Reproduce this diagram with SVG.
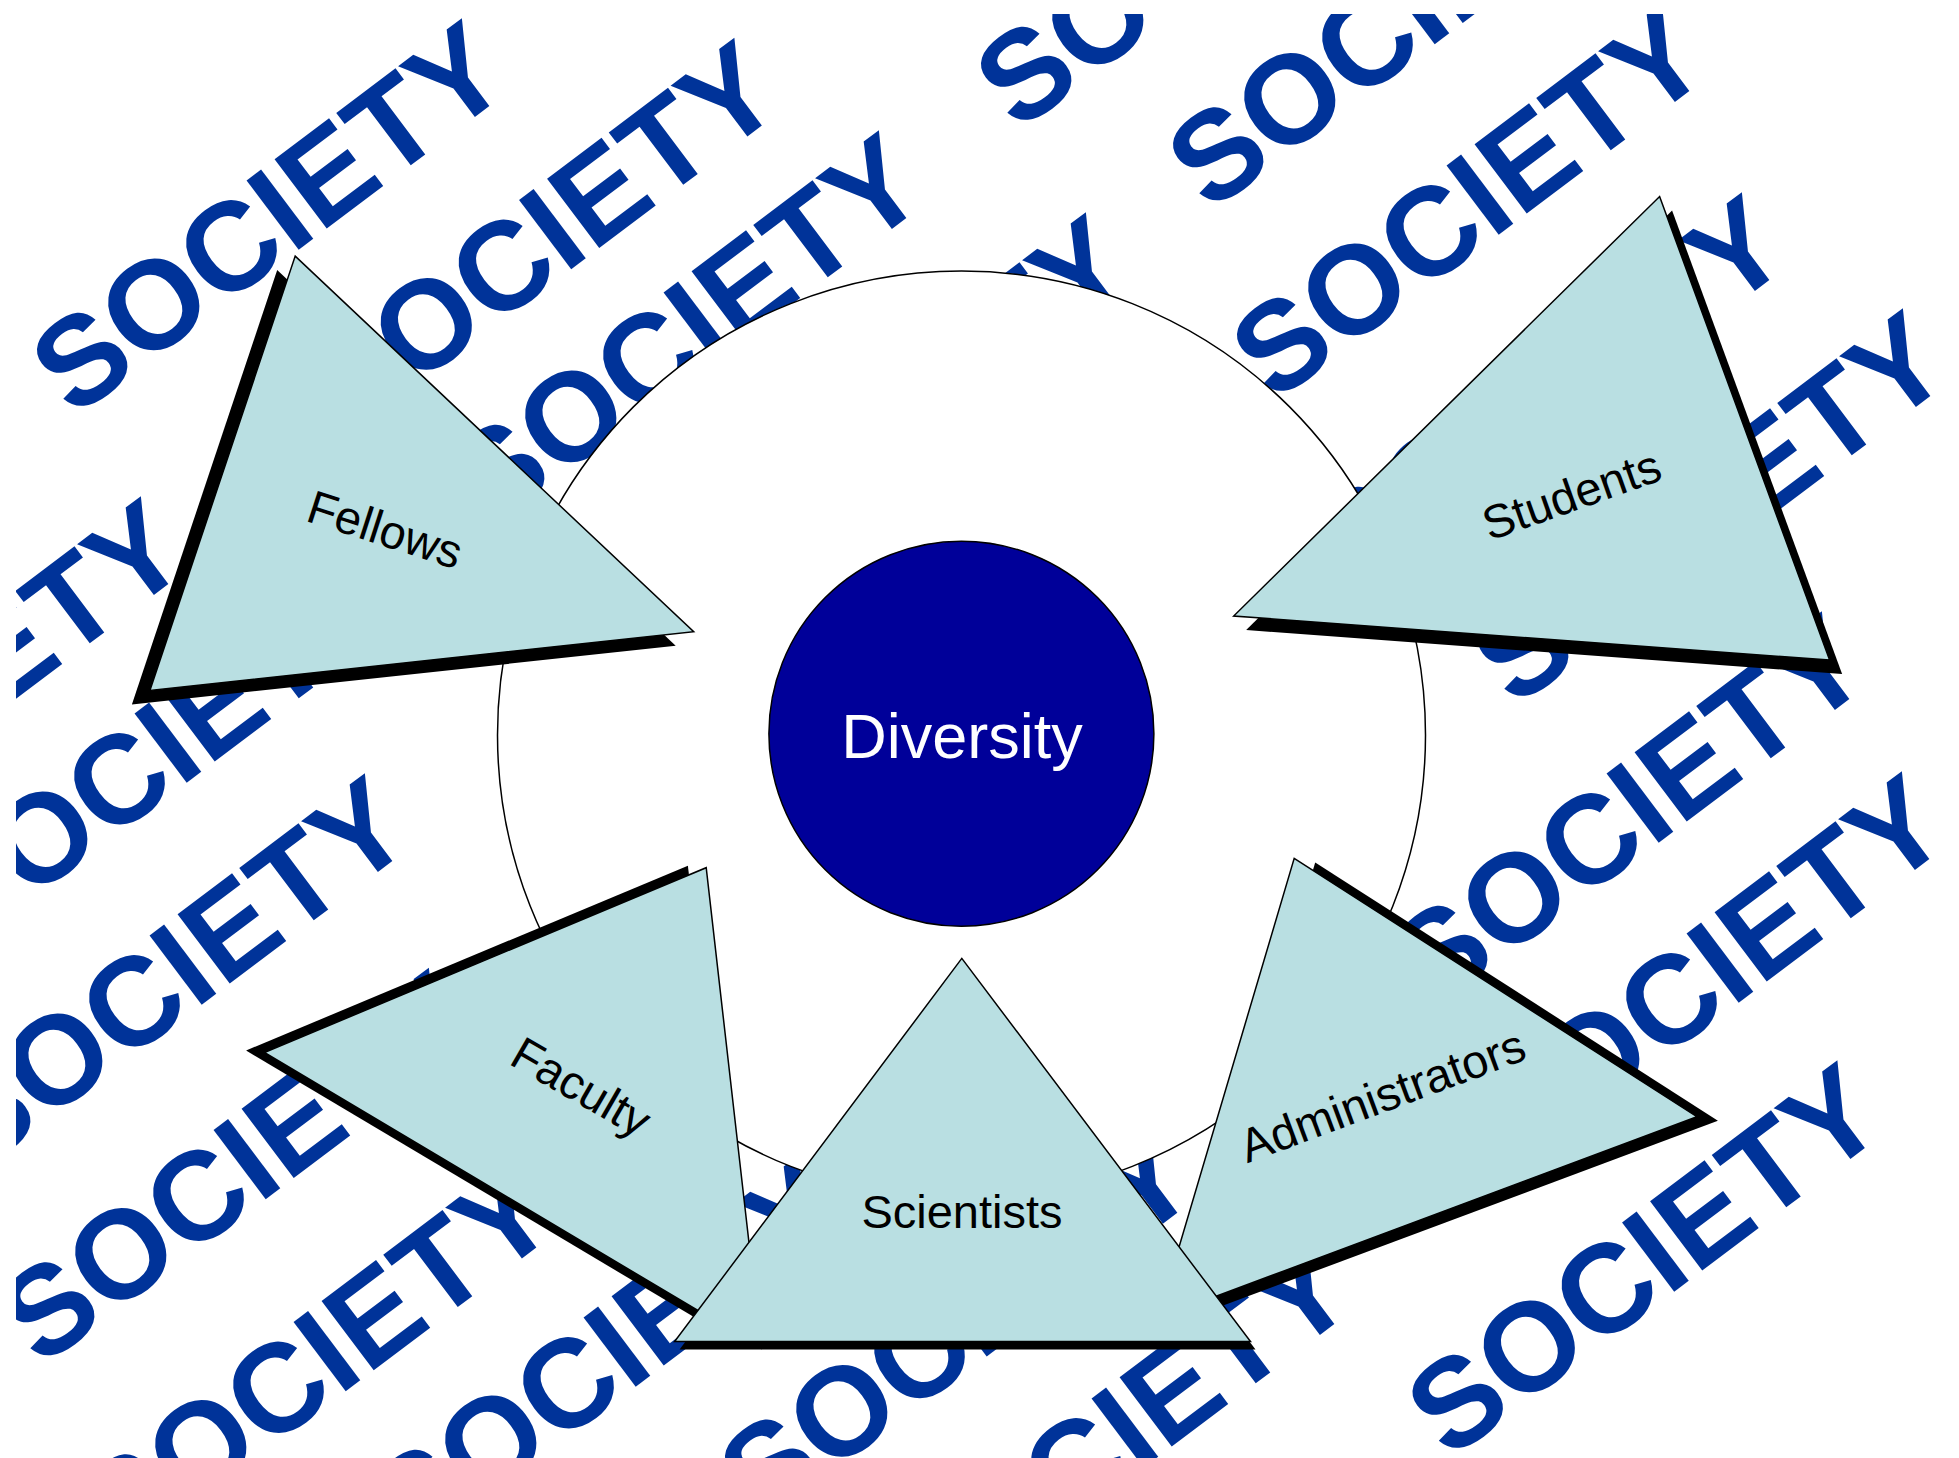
<svg xmlns="http://www.w3.org/2000/svg" width="1959" height="1458" viewBox="0 0 1959 1458">
<defs>
<clipPath id="slide"><rect x="16" y="14" width="1943" height="1444"/></clipPath>
<style>
.soc{font-family:"Liberation Sans",Arial,sans-serif;font-weight:bold;font-size:126px;fill:#003399}
.tri{fill:#B9DFE2;stroke:#000;stroke-width:1.5;stroke-linejoin:miter}
.sh{fill:#000}
.lbl{font-family:"Liberation Sans",Arial,sans-serif;font-size:47px;fill:#000;text-anchor:middle}
</style>
</defs>
<rect width="1959" height="1458" fill="#fff"/>
<g id="society" clip-path="url(#slide)">
<text class="soc" transform="translate(74,419) rotate(-37)">SOCIETY</text>
<text class="soc" transform="translate(346.5,438.5) rotate(-37)">SOCIETY</text>
<text class="soc" transform="translate(491,531) rotate(-37)">SOCIETY</text>
<text class="soc" transform="translate(1018,133) rotate(-37)">SOCIETY</text>
<text class="soc" transform="translate(698,613) rotate(-37)">SOCIETY</text>
<text class="soc" transform="translate(1210,213.5) rotate(-37)">SOCIETY</text>
<text class="soc" transform="translate(1274,404) rotate(-37)">SOCIETY</text>
<text class="soc" transform="translate(1354,593) rotate(-37)">SOCIETY</text>
<text class="soc" transform="translate(1515,709) rotate(-37)">SOCIETY</text>
<text class="soc" transform="translate(1434,1012) rotate(-37)">SOCIETY</text>
<text class="soc" transform="translate(1514,1172) rotate(-37)">SOCIETY</text>
<text class="soc" transform="translate(1449.5,1461) rotate(-37)">SOCIETY</text>
<text class="soc" transform="translate(-247,897) rotate(-37)">SOCIETY</text>
<text class="soc" transform="translate(-38,952) rotate(-37)">SOCIETY</text>
<text class="soc" transform="translate(-23,1174) rotate(-37)">SOCIETY</text>
<text class="soc" transform="translate(41,1368.5) rotate(-37)">SOCIETY</text>
<text class="soc" transform="translate(121,1560.6) rotate(-37)">SOCIETY</text>
<text class="soc" transform="translate(411,1556) rotate(-37)">SOCIETY</text>
<text class="soc" transform="translate(762,1525.7) rotate(-37)">SOCIETY</text>
<text class="soc" transform="translate(919,1637) rotate(-37)">SOCIETY</text>
</g>
<g id="ring">
<circle cx="961.5" cy="735" r="464" fill="#fff" stroke="#000" stroke-width="1.5"/>
</g>
<g id="diversity">
<circle cx="961.4" cy="733.7" r="192.5" fill="#000099" stroke="#000" stroke-width="1.5"/>
<text x="962" y="758" style="font-family:'Liberation Sans',Arial,sans-serif;font-size:63px;fill:#fff;text-anchor:middle">Diversity</text>
</g>
<g id="fellows">
<polygon class="sh" points="277.2,270.1 675.7,645.8 131.9,704.4"/>
<polygon class="tri" points="295.2,256.1 693.7,631.8 149.9,690.4"/>
<text class="lbl" transform="translate(380,545) rotate(18)">Fellows</text>
</g>
<g id="students">
<polygon class="sh" points="1672.1,210.5 1842.1,674.1 1246.2,630"/>
<polygon class="tri" points="1659.6,196.5 1829.6,660.1 1233.7,616"/>
<text class="lbl" transform="translate(1577,510) rotate(-19.5)">Students</text>
</g>
<g id="faculty">
<polygon class="sh" points="687.9,865.7 742.7,1346 246.1,1050.5"/>
<polygon class="tri" points="706.2,867.7 761,1348 264.4,1052.5"/>
<text class="lbl" transform="translate(573,1101) rotate(30)">Faculty</text>
</g>
<g id="administrators">
<polygon class="sh" points="1315.2,862.4 1717.9,1120.7 1179,1322"/>
<polygon class="tri" points="1294.2,858.4 1696.9,1116.7 1158,1318"/>
<text class="lbl" transform="translate(1388,1111) rotate(-20.4)">Administrators</text>
</g>
<g id="scientists">
<polygon class="sh" points="966.8,966.4 1255.5,1349.6 679.6,1349.6"/>
<polygon class="tri" points="961.8,958.4 1250.5,1341.6 674.6,1341.6"/>
<text class="lbl" x="962" y="1228">Scientists</text>
</g>
<g id="connectors"/>
</svg>
